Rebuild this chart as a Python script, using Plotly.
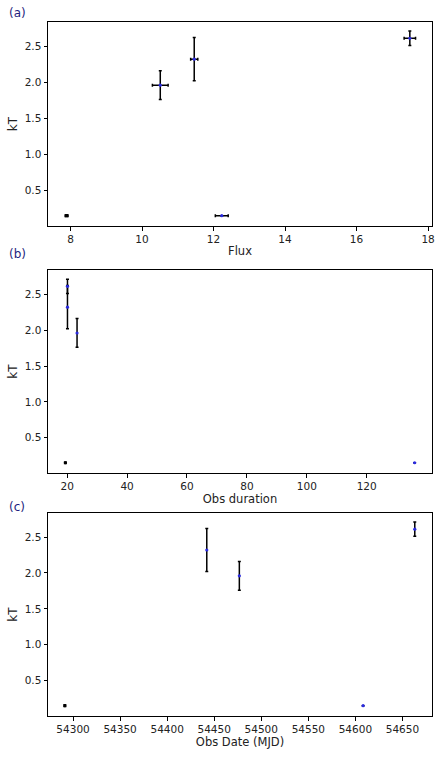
import plotly.graph_objects as go

# Observations
flux = [7.89, 10.51, 11.46, 12.23, 17.49]
flux_err = [0.04, 0.22, 0.10, 0.18, 0.16]
duration = [19.4, 23.3, 20.1, 136.0, 20.1]
mjd = [54291.3, 54476.7, 54442.1, 54608.2, 54663.1]
kT = [0.152, 1.96, 2.32, 0.152, 2.61]
kT_err = [0.012, 0.20, 0.30, 0.0, 0.10]

panel_labels = ["(a)", "(b)", "(c)"]
x_titles = ["Flux", "Obs duration", "Obs Date (MJD)"]

fig = go.Figure()

err_style = dict(color="black", thickness=1.5, width=1.5)
# the point with tiny error bars is hidden under its (black) bars in the original
mk = dict(color=["black", "#2a2ae0", "#2a2ae0", "#2a2ae0", "#2a2ae0"], size=3.2)

# (a) kT vs flux
fig.add_trace(go.Scatter(
    x=flux, y=kT, mode="markers", marker=mk,
    error_x=dict(type="data", array=flux_err, visible=True, **err_style),
    error_y=dict(type="data", array=kT_err, visible=True, **err_style),
    xaxis="x", yaxis="y", showlegend=False))
# (b) kT vs duration
fig.add_trace(go.Scatter(
    x=duration, y=kT, mode="markers", marker=mk,
    error_y=dict(type="data", array=kT_err, visible=True, **err_style),
    xaxis="x2", yaxis="y2", showlegend=False))
# (c) kT vs date
fig.add_trace(go.Scatter(
    x=mjd, y=kT, mode="markers", marker=mk,
    error_y=dict(type="data", array=kT_err, visible=True, **err_style),
    xaxis="x3", yaxis="y3", showlegend=False))

font_fam = "DejaVu Sans"
axis_common = dict(showline=True, linecolor="black", linewidth=1, mirror=True,
                   ticks="outside", ticklen=3.5, tickwidth=1, tickcolor="black",
                   showgrid=False, zeroline=False,
                   tickfont=dict(family=font_fam, size=10.5, color="#222"))

domains = [[0.706, 1.0], [0.350, 0.6424], [0.0, 0.2925]]
xranges = [[7.37, 18.11], [13.6, 141.8], [54273.4, 54681.4]]
xticks = [[8, 10, 12, 14, 16, 18],
          [20, 40, 60, 80, 100, 120],
          [54300, 54350, 54400, 54450, 54500, 54550, 54600, 54650]]
yrange = [0.008, 2.835]
yticks = [0.5, 1.0, 1.5, 2.0, 2.5]

layout = dict(
    width=447, height=757,
    margin=dict(l=42, r=12, t=22, b=34),
    paper_bgcolor="white", plot_bgcolor="white",
    font=dict(family=font_fam, color="#222"),
)
for i in range(3):
    sx = "" if i == 0 else str(i + 1)
    layout["xaxis" + sx] = dict(
        axis_common, domain=[0, 1], anchor="y" + sx, range=xranges[i],
        tickvals=xticks[i], ticktext=[str(t) for t in xticks[i]],
        title=dict(text=x_titles[i], font=dict(family=font_fam, size=11.5, color="#222"), standoff=2))
    layout["yaxis" + sx] = dict(
        axis_common, domain=domains[i], anchor="x" + sx, range=yrange,
        tickvals=yticks, ticktext=["0.5", "1.0", "1.5", "2.0", "2.5"],
        title=dict(text="kT", font=dict(family=font_fam, size=12, color="#222"), standoff=4))
fig.update_layout(**layout)

label_y = [13, 256, 512]
for lab, py in zip(panel_labels, label_y):
    fig.add_annotation(text=lab, xref="paper", yref="paper",
                       x=-42 / 393, y=1 - (py - 22) / 701, xanchor="left", yanchor="middle",
                       showarrow=False, font=dict(family=font_fam, size=12, color="#1f1f80"))

fig.write_html("out.html")
